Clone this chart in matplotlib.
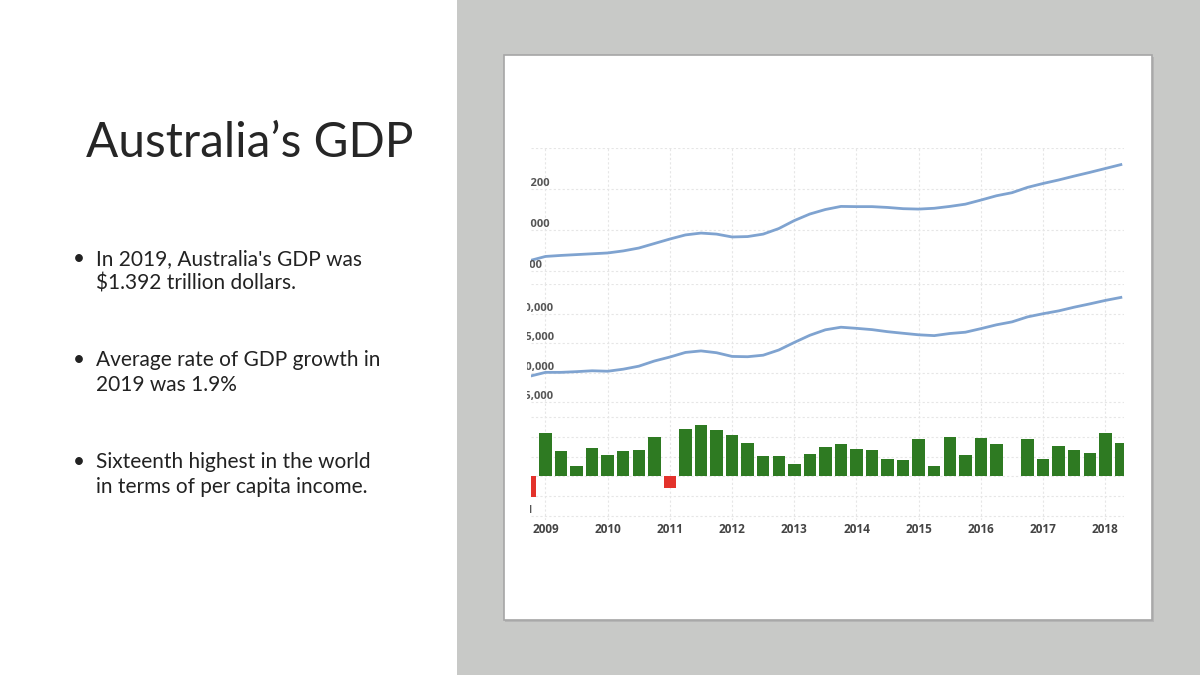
import matplotlib
matplotlib.use("Agg")
import matplotlib.pyplot as plt
from matplotlib.patches import Rectangle
from matplotlib.transforms import Bbox, TransformedBbox
import pandas as pd

W, H = 1200, 675

# quarterly data, 2008Q4 .. 2018Q2
quarters = pd.period_range("2008Q4", "2018Q2", freq="Q")
gdp_level = [851, 871, 876, 880, 884, 888, 898, 912, 934, 956,
             976, 985, 980, 966, 968, 980, 1007, 1046, 1078, 1100,
             1115, 1114, 1114, 1110, 1104, 1102, 1106, 1115, 1126, 1146,
             1167, 1182, 1208, 1227, 1244, 1263, 1281, 1300, 1319]
gdp_per_capita = [49400, 50050, 50050, 50170, 50320, 50240, 50590, 51100, 51980, 52660,
                  53440, 53700, 53390, 52760, 52710, 52970, 53850, 55140, 56360, 57290,
                  57730, 57540, 57320, 56970, 56700, 56440, 56300, 56660, 56880, 57490,
                  58140, 58640, 59490, 60030, 60510, 61140, 61700, 62290, 62800]
gdp_growth = [-0.51, 1.10, 0.64, 0.26, 0.72, 0.54, 0.64, 0.67, 1.00, -0.28,
              1.21, 1.31, 1.18, 1.05, 0.85, 0.51, 0.51, 0.31, 0.56, 0.74,
              0.82, 0.69, 0.67, 0.44, 0.41, 0.95, 0.26, 1.00, 0.54, 0.97,
              0.82, 0.02, 0.95, 0.44, 0.77, 0.67, 0.59, 1.10, 0.85]
years = list(range(2009, 2019))

level_ticks = ["1200", "1000", "800"]
level_tick_vals = [1200, 1000, 800]
pc_ticks = ["60,000", "55,000", "50,000", "45,000"]
pc_tick_vals = [60000, 55000, 50000, 45000]

bullets = [
    ["In 2019, Australia's GDP was", "$1.392 trillion dollars."],
    ["Average rate of GDP growth in", "2019 was 1.9%"],
    ["Sixteenth highest in the world", "in terms of per capita income."],
]

xq = [p.year + (p.quarter - 1) / 4 for p in quarters]


def fx(x):
    return x / W


def fy(y):
    return 1 - y / H


fig = plt.figure(figsize=(12, 6.75), dpi=100, facecolor="white")

# right grey panel and the white card with its shadow
fig.add_artist(Rectangle((fx(457), 0), fx(W - 457), 1, transform=fig.transFigure,
                         facecolor="#c8c9c7", edgecolor="none", zorder=0))
fig.add_artist(Rectangle((fx(505), fy(622)), fx(649), (620 - 55) / H, transform=fig.transFigure,
                         facecolor="#b5b5b5", edgecolor="none", zorder=0.5))
fig.add_artist(Rectangle((fx(504), fy(620)), fx(648), (620 - 55) / H, transform=fig.transFigure,
                         facecolor="white", edgecolor="#a6a6a6", lw=1.2, zorder=1))

# left text
fig.text(fx(86), fy(157), "Australia\u2019s GDP", family="Lato", weight="normal",
         fontsize=34.4, color="#262626", va="baseline", ha="left")
for lines, base in zip(bullets, [265, 366, 468]):
    fig.text(fx(73), fy(base), "\u2022", family="Lato", fontsize=15,
             color="#222222", va="baseline")
    for k, line in enumerate(lines):
        fig.text(fx(96), fy(base + 25 * k), line, family="Lato", fontsize=15,
                 color="#222222", va="baseline")

L, R = 531, 1124
xmin = 2009 - (545.5 - L) / 62.2
xmax = 2009 + (R - 545.5) / 62.2


def panel(top, bottom):
    ax = fig.add_axes([fx(L), fy(bottom), fx(R - L), (bottom - top) / H])
    ax.set_facecolor("none")
    for s in ax.spines.values():
        s.set_visible(False)
    ax.set_xlim(xmin, xmax)
    ax.set_xticks(years)
    ax.tick_params(length=0, labelleft=False, labelbottom=False)
    ax.grid(True, color="#e6e6e6", linestyle=(0, (2, 2)), lw=0.8)
    ax.set_axisbelow(True)
    ax.set_zorder(2)
    return ax


ax1 = panel(148, 284)
ax1.set_ylim(800 - 13 * 200 / 41, 1400)
ax1.set_yticks([800, 1000, 1200, 1400])
ax1.plot(xq, gdp_level, color="#7fa3d0", lw=2)

ax2 = panel(284, 410)
ax2.set_ylim(45000 - 8 * 5000 / 29.5, 65085)
ax2.set_yticks([45000, 50000, 55000, 60000, 65000])
ax2.plot(xq, gdp_per_capita, color="#7fa3d0", lw=2)

ax3 = panel(410, 520)
ax3.set_ylim(-1.10, 1.68)
ax3.set_yticks([-1, -0.5, 0, 0.5, 1, 1.5])
colors = ["#2e7a22" if v > 0.05 else ("#e3322b" if v < 0 else "#9a9a9a") for v in gdp_growth]
ax3.bar(xq, gdp_growth, width=0.2, color=colors)
ax3.set_xticks(years)
ax3.set_xticklabels([str(y) for y in years], family="Open Sans", weight="bold",
                    fontsize=8.5, color="#444444")
ax3.tick_params(labelbottom=True, pad=2)


# cropped axis labels (the chart picture is cut on its left side)
def crop_label(ax, x_px, val, s, clip_px):
    clip = TransformedBbox(Bbox.from_extents(fx(clip_px), 0, 1, 1), fig.transFigure)
    t = ax.text(0, val, s, family="Open Sans", weight="bold", fontsize=8,
                color="#555555", ha="left", va="bottom")
    t.set_x((x_px - L) / (R - L))
    t.set_transform(ax.get_yaxis_transform())
    t.set_clip_box(clip)
    t.set_clip_on(True)


for v, s in zip(level_tick_vals, level_ticks):
    crop_label(ax1, 524, v, s, 530)
for v, s in zip(pc_tick_vals, pc_ticks):
    crop_label(ax2, 519, v, s, 527)
crop_label(ax3, 524, -1, "-1", 530)

fig.savefig("out.png", dpi=100, facecolor="white")
